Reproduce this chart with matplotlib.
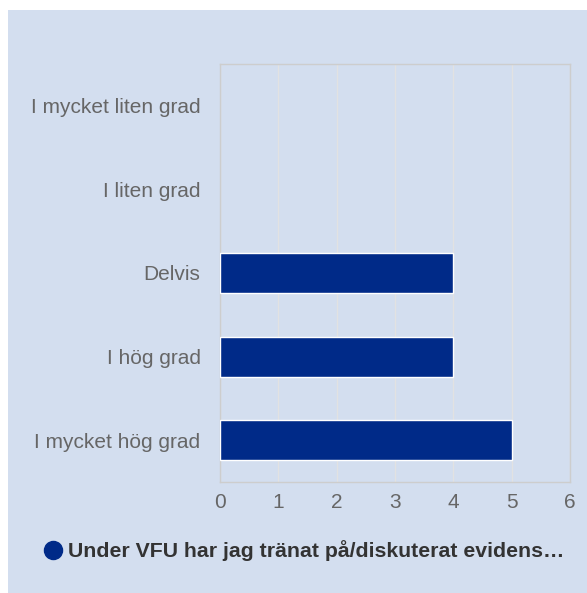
import matplotlib.pyplot as plt
from matplotlib.lines import Line2D
from matplotlib.patches import Rectangle

plt.rcParams['font.family'] = ['Liberation Sans', 'DejaVu Sans']

# survey answers, top to bottom as shown
categories = ['I mycket liten grad', 'I liten grad', 'Delvis', 'I hög grad', 'I mycket hög grad']
counts = [0, 0, 4, 4, 5]
series_name = 'Under VFU har jag tränat på/diskuterat evidens…'
x_ticks = [0, 1, 2, 3, 4, 5, 6]

bg = '#D3DEEF'
bar_col = '#002A88'
W, H = 587, 593

fig = plt.figure(figsize=(W / 100, H / 100), dpi=100)
fig.patch.set_facecolor('white')
fig.add_artist(Rectangle((8 / W, 0), 1 - 8 / W, (H - 10) / H, transform=fig.transFigure,
                         facecolor=bg, edgecolor='none', zorder=0))

ax = fig.add_axes([220 / W, (H - 482) / H, 350 / W, 418 / H])
ax.set_facecolor(bg)

ypos = list(range(len(categories)))
edges = ['white' if c > 0 else 'none' for c in counts]
ax.barh(ypos, counts, height=0.48, color=bar_col, edgecolor=edges, linewidth=1, zorder=3)
ax.set_yticks(ypos)
ax.set_yticklabels(categories)
ax.set_ylim(len(categories) - 0.5, -0.5)
ax.set_xlim(0, 6)
ax.set_xticks(x_ticks)

ax.grid(axis='x', color='#E2E2E2', linewidth=1, zorder=0)
for s in ax.spines.values():
    s.set_color('#CDCDCD')
    s.set_linewidth(1)
ax.tick_params(axis='both', length=0, colors='#666666', labelsize=15)
ax.tick_params(axis='y', pad=14)
ax.tick_params(axis='x', pad=8)

handle = Line2D([], [], marker='o', linestyle='none', markersize=13,
                markerfacecolor=bar_col, markeredgecolor=bar_col)
fig.legend([handle], [series_name], loc='center left',
           bbox_to_anchor=(21 / W, (H - 551) / H), frameon=False,
           handletextpad=0.1, handlelength=1.2,
           prop={'weight': 'bold', 'size': 15.3}, labelcolor='#333333')

fig.savefig('out.png', dpi=100)
